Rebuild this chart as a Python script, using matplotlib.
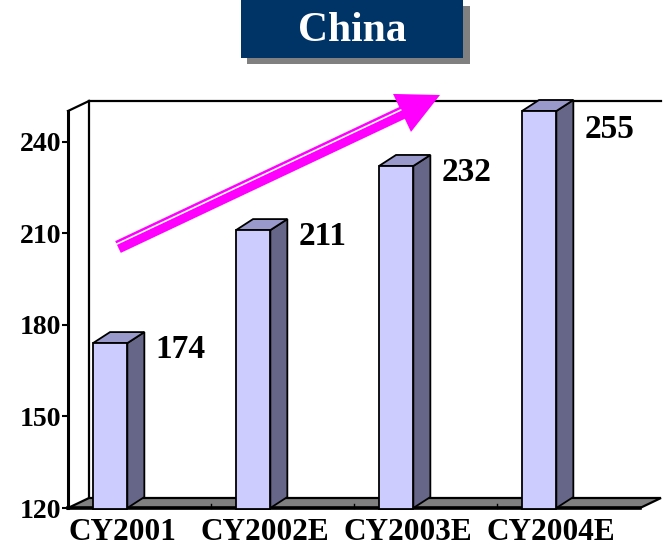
import matplotlib
matplotlib.use("Agg")
import matplotlib.pyplot as plt
from matplotlib.patches import Polygon, Rectangle
import matplotlib.transforms as mtransforms
import numpy as np

# ---- data ----
categories = ["CY2001", "CY2002E", "CY2003E", "CY2004E"]
values = [174, 211, 232, 255]
value_labels = ["174", "211", "232", "255"]
y_ticks = [120, 150, 180, 210, 240]
title_text = "China"

# ---- style ----
W, H = 663, 548
FRONT = "#CCCCFF"
SIDE = "#666688"
TOP = "#9999CC"
FLOOR = "#808080"
NAVY = "#003366"
MAGENTA = "#FF00FF"
SERIF = ["Liberation Serif", "DejaVu Serif"]
YMIN, YMAX = 120, 250

fig = plt.figure(figsize=(W / 100, H / 100), dpi=100)
# axes = front plane of the 3D box (pixels: x 68..640, y 111..508)
ax = fig.add_axes([68 / W, (H - 508) / H, (640 - 68) / W, (508 - 111) / H])
ax.set_xlim(0, len(categories))
ax.set_ylim(YMIN, YMAX)
ax.patch.set_visible(False)

# depth offsets in data units
px_x = len(categories) / (640 - 68)
px_y = (YMAX - YMIN) / (508 - 111)
FDX, FDY = 21 * px_x, 10 * px_y      # walls/floor depth
BDX, BDY = 17 * px_x, 11 * px_y      # bar depth
BAR_OFF, BAR_W = 0.175, 0.24

lw = 1.6
n = len(categories)
# back wall and left wall outline
ax.plot([FDX, FDX], [YMIN + FDY, YMAX + FDY], color="black", lw=lw, clip_on=False, zorder=1)
ax.plot([FDX, n + FDX], [YMAX + FDY, YMAX + FDY], color="black", lw=lw, clip_on=False, zorder=1)
ax.plot([0, FDX], [YMAX, YMAX + FDY], color="black", lw=lw, clip_on=False, zorder=1)

# floor
floor = Polygon([(0, YMIN), (n, YMIN), (n + FDX, YMIN + FDY), (FDX, YMIN + FDY)],
                closed=True, facecolor=FLOOR, edgecolor="black", lw=lw, clip_on=False, zorder=2)
ax.add_patch(floor)
ax.plot([0, n], [YMIN, YMIN], color="black", lw=2.6, clip_on=False, zorder=2.5)
for i in range(1, n):
    ax.plot([i, i], [YMIN, YMIN + 4 * px_y], color="black", lw=1, clip_on=False, zorder=2.5)

# bars
for i, v in enumerate(values):
    top = min(v, YMAX)
    xl = i + BAR_OFF
    xr = xl + BAR_W
    side = Polygon([(xr, YMIN), (xr + BDX, YMIN + BDY), (xr + BDX, top + BDY), (xr, top)],
                   closed=True, facecolor=SIDE, edgecolor="black", lw=1.3, clip_on=False, zorder=3)
    topf = Polygon([(xl, top), (xr, top), (xr + BDX, top + BDY), (xl + BDX, top + BDY)],
                   closed=True, facecolor=TOP, edgecolor="black", lw=1.3, clip_on=False, zorder=3)
    front = Rectangle((xl, YMIN - 1 * px_y), BAR_W, top - YMIN + 1 * px_y,
                      facecolor=FRONT, edgecolor="black", lw=1.3, clip_on=False, zorder=4)
    ax.add_patch(side)
    ax.add_patch(topf)
    ax.add_patch(front)
    ly = min(v, YMAX - 4) - 2
    ax.text(i + 0.61, ly, value_labels[i], ha="left", va="center", fontsize=24,
            fontweight="bold", family=SERIF, color="black", zorder=5, clip_on=False)

# axes styling
for s in ["top", "right", "bottom"]:
    ax.spines[s].set_visible(False)
ax.spines["left"].set_linewidth(2.2)
ax.spines["left"].set_zorder(5)
ax.set_yticks(y_ticks)
ax.set_yticklabels([str(t) for t in y_ticks])
ax.tick_params(axis="y", direction="out", length=4, width=1.5, pad=1,
               labelsize=20)
ax.set_xticks([i + 0.38 for i in range(n)])
ax.set_xticklabels(categories)
ax.tick_params(axis="x", length=0, pad=7, labelsize=22.5)
for lab in ax.get_yticklabels() + ax.get_xticklabels():
    lab.set_fontweight("bold")
    lab.set_family(SERIF)

# pixel transform for decorations (origin top-left)
pix = mtransforms.Affine2D().scale(1 / W, -1 / H).translate(0, 1) + fig.transFigure

# arrow
S = np.array([118.0, 247.0])
T = np.array([440.0, 95.0])
u = (T - S) / np.linalg.norm(T - S)
nv = np.array([-u[1], u[0]])
HL, HW, SW = 42.0, 21.0, 6.5
B = T - HL * u
pts = [S - SW * nv, B - SW * nv, B - HW * nv, T, B + HW * nv, B + SW * nv, S + SW * nv]
fig.patches.append(Polygon(pts, closed=True, facecolor=MAGENTA, edgecolor="none",
                           transform=pix, figure=fig, zorder=6))
wl = [S - 3.2 * nv, B - 3.2 * nv]
fig.lines.append(plt.Line2D([wl[0][0], wl[1][0]], [wl[0][1], wl[1][1]], color="white",
                            lw=1.2, transform=pix, figure=fig, zorder=7))

# title box with shadow
fig.patches.append(Rectangle((247, 6), 223, 58, facecolor="#808080", edgecolor="none",
                             transform=pix, figure=fig, zorder=6))
fig.patches.append(Rectangle((241, 0), 222, 58, facecolor=NAVY, edgecolor="none",
                             transform=pix, figure=fig, zorder=7))
fig.text(352 / W, 1 - 31 / H, title_text, ha="center", va="center", color="white",
         fontsize=30, fontweight="bold", family=SERIF, zorder=8)

fig.savefig("out.png", dpi=100)
